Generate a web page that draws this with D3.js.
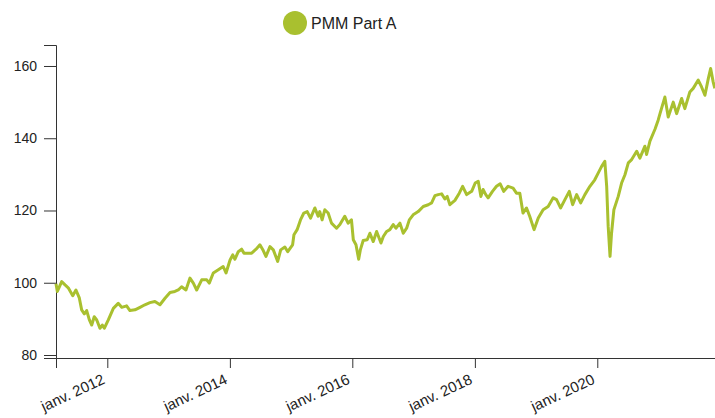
<!DOCTYPE html>
<html>
<head>
<meta charset="utf-8">
<script src="https://cdn.jsdelivr.net/npm/d3@7"></script>
<style>
  html, body { margin: 0; padding: 0; background: #fff; }
  svg { display: block; font-family: "Liberation Sans", Arial, sans-serif; }
</style>
</head>
<body>
<svg id="chart" width="715" height="418"></svg>
<script>
const seriesName = "PMM Part A";
const dates = [
"2011-03-01","2011-03-09","2011-04-04","2011-04-24","2011-05-13","2011-06-09","2011-06-28","2011-07-18","2011-08-01","2011-08-17",
"2011-08-31","2011-09-16","2011-09-30","2011-10-15","2011-10-30","2011-11-18","2011-12-02","2011-12-14","2012-01-07","2012-02-06",
"2012-03-06","2012-03-27","2012-04-25","2012-05-15","2012-06-14","2012-07-14","2012-08-12","2012-09-11","2012-10-11","2012-11-10",
"2012-12-10","2013-01-09","2013-02-07","2013-02-27","2013-03-19","2013-04-14","2013-05-08","2013-05-28","2013-06-17","2013-07-17",
"2013-08-16","2013-08-31","2013-09-24","2013-10-24","2013-11-22","2013-12-09","2014-01-02","2014-01-18","2014-01-31","2014-02-20",
"2014-03-12","2014-03-26","2014-04-11","2014-05-11","2014-06-06","2014-06-29","2014-07-19","2014-08-04","2014-08-28","2014-09-17",
"2014-10-13","2014-10-31","2014-11-25","2014-12-12","2014-12-27","2015-01-10","2015-01-18","2015-02-06","2015-02-26","2015-03-18",
"2015-04-07","2015-04-27","2015-05-23","2015-06-11","2015-06-21","2015-07-05","2015-07-21","2015-08-10","2015-08-30","2015-09-29",
"2015-10-19","2015-11-17","2015-12-07","2015-12-27","2016-01-07","2016-01-23","2016-02-08","2016-02-18","2016-03-06","2016-03-30",
"2016-04-15","2016-05-05","2016-05-25","2016-06-20","2016-07-04","2016-07-24","2016-08-12","2016-09-01","2016-09-17","2016-10-11",
"2016-10-31","2016-11-20","2016-12-06","2016-12-29","2017-01-28","2017-02-27","2017-03-29","2017-04-18","2017-05-08","2017-05-27",
"2017-06-17","2017-07-06","2017-07-20","2017-08-05","2017-09-04","2017-09-30","2017-10-20","2017-11-13","2017-12-13","2018-01-03",
"2018-01-21","2018-02-06","2018-02-19","2018-03-07","2018-03-21","2018-04-16","2018-05-10","2018-06-01","2018-06-22","2018-07-18",
"2018-08-17","2018-09-06","2018-09-26","2018-10-15","2018-11-05","2018-11-24","2018-12-20","2019-01-14","2019-02-12","2019-03-14",
"2019-04-13","2019-05-03","2019-05-27","2019-06-22","2019-07-18","2019-08-07","2019-08-31","2019-09-24","2019-10-19","2019-11-18",
"2019-12-17","2020-01-07","2020-01-27","2020-02-15","2020-02-26","2020-03-06","2020-03-17","2020-03-26","2020-04-09","2020-05-05",
"2020-05-25","2020-06-14","2020-07-04","2020-07-24","2020-08-23","2020-09-11","2020-10-11","2020-10-21","2020-11-10","2020-12-10",
"2020-12-29","2021-01-09","2021-02-07","2021-02-27","2021-03-29","2021-04-18","2021-05-18","2021-06-06","2021-07-06","2021-07-26",
"2021-08-25","2021-09-14","2021-10-04","2021-10-24","2021-11-07","2021-11-22","2021-12-02"
];
const values = [
99.7,97.6,100.3,99.4,98.6,96.4,98.0,95.8,92.5,91.4,
92.3,89.7,88.3,90.6,89.7,87.4,88.3,87.4,89.7,92.9,
94.3,93.2,93.6,92.3,92.5,93.2,93.9,94.5,94.8,93.9,
95.7,97.3,97.6,98.0,98.9,98.0,101.3,99.9,98.0,100.8,
100.8,99.9,102.7,103.6,104.5,102.7,106.3,107.7,106.5,108.6,
109.3,108.2,108.2,108.2,109.3,110.5,108.9,107.3,110.0,109.1,
105.9,109.1,109.9,108.6,109.6,110.5,113.3,114.7,117.4,119.3,
119.7,117.9,120.7,118.4,119.7,117.4,120.2,119.3,116.5,115.1,
116.1,118.4,116.5,117.4,111.9,110.5,106.5,109.1,111.7,111.9,
113.7,111.4,114.2,111.0,112.8,114.2,114.7,116.1,115.1,116.5,
113.7,115.1,117.4,118.8,119.7,121.1,121.6,122.1,124.1,124.4,
124.6,123.2,123.9,121.6,122.8,124.8,126.7,124.4,125.3,127.6,
128.1,123.9,125.8,124.4,123.5,125.3,126.7,127.4,125.3,126.7,
126.2,124.8,124.8,119.3,120.7,118.4,114.7,117.9,120.2,121.1,
123.5,123.0,120.7,123.0,125.3,121.6,124.4,122.1,124.4,126.7,
128.5,130.4,132.2,133.6,126.7,115.6,107.3,113.7,120.2,123.9,
127.6,129.9,133.2,134.1,136.4,134.5,137.8,135.5,139.2,142.5,
145.0,146.8,151.4,145.9,150.0,146.8,151.0,148.2,152.8,153.8,
156.1,154.2,151.9,156.5,159.3,155.6,153.8
];
const yTicks = [80, 100, 120, 140, 160];
const xTickYears = [2012, 2014, 2016, 2018, 2020];
const frMonths = ["janv.","févr.","mars","avr.","mai","juin","juil.","août","sept.","oct.","nov.","déc."];

const color = "#a9c02f";
const parse = d3.timeParse("%Y-%m-%d");
const data = dates.map((d, i) => ({ date: parse(d), value: values[i] }));

const svg = d3.select("#chart");
const mLeft = 56, mRight = 715, mTop = 45, mBottom = 358;

const x = d3.scaleTime()
  .domain([parse("2011-03-01"), parse("2021-12-03")])
  .range([mLeft, mRight]);
const y = d3.scaleLinear()
  .domain([79.17, 165.81])
  .range([mBottom, mTop]);

const fmt = d => frMonths[d.getMonth()] + " " + d.getFullYear();

// X axis
const xAxis = svg.append("g")
  .attr("transform", `translate(0,${mBottom})`)
  .call(d3.axisBottom(x)
    .tickValues(xTickYears.map(yr => new Date(yr, 0, 1)))
    .tickFormat(fmt)
    .tickSizeInner(10).tickSizeOuter(10));

// Y axis
const yAxis = svg.append("g")
  .attr("transform", `translate(${mLeft},0)`)
  .call(d3.axisLeft(y)
    .tickValues(yTicks)
    .tickSizeInner(12).tickSizeOuter(12)
    .tickPadding(7));

svg.selectAll(".tick text")
  .attr("font-size", 14)
  .attr("font-family", "Liberation Sans, Arial, sans-serif")
  .attr("fill", "#222");
svg.selectAll(".domain, .tick line").attr("stroke", "#333");

xAxis.selectAll("text")
  .attr("y", 0).attr("dy", 0)
  .attr("font-size", 15)
  .attr("text-anchor", "end")
  .attr("transform", "translate(-2,25) rotate(-25)");

// Line
svg.append("path")
  .datum(data)
  .attr("fill", "none")
  .attr("stroke", color)
  .attr("stroke-width", 3)
  .attr("stroke-linejoin", "round")
  .attr("d", d3.line().x(d => x(d.date)).y(d => y(d.value)));

// Legend
const lg = svg.append("g");
lg.append("circle").attr("cx", 295).attr("cy", 23).attr("r", 12).attr("fill", color);
lg.append("text").attr("x", 311).attr("y", 28.5)
  .attr("font-size", 16).attr("fill", "#222")
  .text(seriesName);
</script>
</body>
</html>
